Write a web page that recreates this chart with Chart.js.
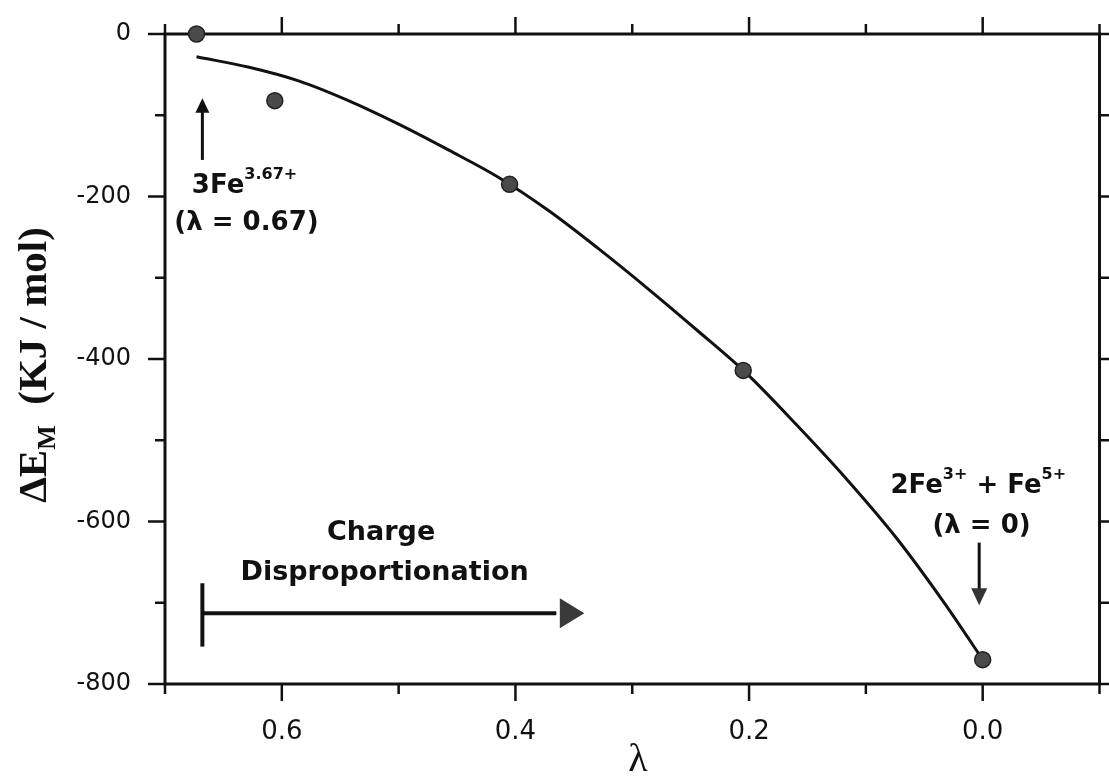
<!DOCTYPE html>
<html>
<head>
<meta charset="utf-8">
<script src="https://cdn.jsdelivr.net/npm/chart.js@4.4.0/dist/chart.umd.min.js"></script>
<style>
  html, body { margin: 0; padding: 0; background: #fff; }
</style>
</head>
<body>
<canvas id="chart" width="1109" height="779"></canvas>
<script>
// calculated points (lambda, Delta E_M in kJ/mol)
var lambdaPts = [0.673, 0.606, 0.405, 0.205, 0.0];
var energyPts = [0, -82, -185, -414, -770];

// fitted curve
var lambdaFit = [0.673, 0.628, 0.585, 0.543, 0.50, 0.457, 0.415, 0.372, 0.33, 0.287, 0.245, 0.202, 0.16, 0.117, 0.074, 0.032, 0.0];
var energyFit = [-28, -41, -58, -82, -111, -143, -176, -217, -263, -313, -364, -418, -480, -547, -620, -702, -770];

var xTickLabels = ['0.6', '0.4', '0.2', '0.0'];
var yTickLabels = ['0', '-200', '-400', '-600', '-800'];

var pts = lambdaPts.map(function (l, i) { return {x: l, y: energyPts[i]}; });
var fit = lambdaFit.map(function (l, i) { return {x: l, y: energyFit[i]}; });

function line(ctx, x1, y1, x2, y2) {
    ctx.beginPath();
    ctx.moveTo(x1, y1);
    ctx.lineTo(x2, y2);
    ctx.stroke();
}

// text with superscripts / subscripts, parts = [[text, shift], ...]
function richText(ctx, parts, x, y, big, small) {
    parts.forEach(function (p) {
        ctx.font = p[1] === 0 ? big : small;
        ctx.fillText(p[0], x, y + p[1]);
        x += ctx.measureText(p[0]).width;
    });
}

function richWidth(ctx, parts, big, small) {
    var w = 0;
    parts.forEach(function (p) {
        ctx.font = p[1] === 0 ? big : small;
        w += ctx.measureText(p[0]).width;
    });
    return w;
}

function noPad(s) {
    s.paddingLeft = 0;
    s.paddingRight = 0;
    s.paddingTop = 0;
    s.paddingBottom = 0;
}

var frameTicks = {
    id: 'frameTicks',
    beforeDatasetsDraw: function (chart) {
        var ctx = chart.ctx, a = chart.chartArea;
        var xs = chart.scales.x, ys = chart.scales.y;
        ctx.save();
        ctx.strokeStyle = '#111';
        ctx.lineWidth = 3;
        ctx.strokeRect(a.left, a.top, a.right - a.left, a.bottom - a.top);
        ctx.lineWidth = 2.5;
        xs.ticks.forEach(function (t) {
            var p = xs.getPixelForValue(t.value);
            var major = Math.abs(Math.round(t.value * 10)) % 2 === 0;
            var len = major ? 17 : 10;
            line(ctx, p, a.bottom, p, a.bottom + len);
            line(ctx, p, a.top, p, a.top - len);
        });
        ys.ticks.forEach(function (t) {
            var p = ys.getPixelForValue(t.value);
            var major = Math.round(t.value) % 200 === 0;
            var len = major ? 17 : 10;
            line(ctx, a.left - len, p, a.left, p);
            line(ctx, a.right, p, a.right + len, p);
        });
        ctx.restore();
    }
};

var decor = {
    id: 'decor',
    afterDraw: function (chart) {
        var ctx = chart.ctx;
        var xs = chart.scales.x, ys = chart.scales.y;
        var px = function (v) { return xs.getPixelForValue(v); };
        var py = function (v) { return ys.getPixelForValue(v); };
        var big = 'bold 26px "DejaVu Sans"';
        var small = 'bold 16px "DejaVu Sans"';
        ctx.save();
        ctx.fillStyle = '#111';
        ctx.strokeStyle = '#111';
        ctx.textBaseline = 'alphabetic';

        // up arrow to lambda = 0.67
        ctx.lineWidth = 3;
        var ax = px(0.668);
        line(ctx, ax, py(-155), ax, py(-90));
        ctx.beginPath();
        ctx.moveTo(ax, py(-79));
        ctx.lineTo(ax - 7, py(-97));
        ctx.lineTo(ax + 7, py(-97));
        ctx.closePath();
        ctx.fill();

        ctx.textAlign = 'left';
        richText(ctx, [['3Fe', 0], ['3.67+', -14]], px(0.677), py(-196), big, small);
        ctx.font = big;
        ctx.fillText('(\u03BB = 0.67)', px(0.692), py(-241));

        // right hand label, lambda = 0
        richText(ctx, [['2Fe', 0], ['3+', -14], [' + Fe', 0], ['5+', -14]], px(0.079), py(-565), big, small);
        ctx.font = big;
        ctx.textAlign = 'center';
        ctx.fillText('(\u03BB = 0)', px(0.001), py(-614));
        var dx = px(0.003);
        line(ctx, dx, py(-626), dx, py(-685));
        ctx.fillStyle = '#333';
        ctx.beginPath();
        ctx.moveTo(dx, py(-703));
        ctx.lineTo(dx - 8, py(-682));
        ctx.lineTo(dx + 8, py(-682));
        ctx.closePath();
        ctx.fill();
        ctx.fillStyle = '#111';

        // charge disproportionation arrow
        ctx.font = 'bold 27px "DejaVu Sans"';
        ctx.fillText('Charge', px(0.515), py(-623));
        ctx.fillText('Disproportionation', px(0.512), py(-672));
        ctx.lineWidth = 4;
        var bx = px(0.668), by = py(-713);
        line(ctx, bx, py(-676), bx, py(-754));
        line(ctx, bx, by, px(0.365), by);
        ctx.fillStyle = '#3a3a3a';
        ctx.beginPath();
        ctx.moveTo(px(0.341), by);
        ctx.lineTo(px(0.362), by - 15);
        ctx.lineTo(px(0.362), by + 15);
        ctx.closePath();
        ctx.fill();
        ctx.fillStyle = '#111';

        // axis titles
        ctx.textAlign = 'center';
        ctx.textBaseline = 'middle';
        ctx.font = '40px "Liberation Serif"';
        ctx.fillText('\u03BB', 638, 760);

        var tBig = 'bold 41px "Liberation Serif"';
        var tSmall = 'bold 26px "Liberation Serif"';
        var tParts = [['\u0394E', 0], ['M', 9], ['  (KJ / mol)', 0]];
        var w = richWidth(ctx, tParts, tBig, tSmall);
        ctx.translate(46, 365);
        ctx.rotate(-Math.PI / 2);
        ctx.textAlign = 'left';
        ctx.textBaseline = 'alphabetic';
        richText(ctx, tParts, -w / 2, 0, tBig, tSmall);
        ctx.restore();
    }
};

new Chart(document.getElementById('chart'), {
    type: 'scatter',
    data: {
        datasets: [{
            data: fit,
            showLine: true,
            borderColor: '#111',
            borderWidth: 3,
            pointRadius: 0,
            cubicInterpolationMode: 'monotone',
            order: 2
        }, {
            data: pts,
            showLine: false,
            pointRadius: 8,
            pointBackgroundColor: '#4a4a4a',
            pointBorderColor: '#222',
            pointBorderWidth: 1.5,
            clip: false,
            order: 1
        }]
    },
    options: {
        responsive: false,
        animation: false,
        devicePixelRatio: 1,
        layout: { padding: { top: 34, right: 4, left: 0, bottom: 0 } },
        plugins: {
            legend: { display: false },
            tooltip: { enabled: false }
        },
        scales: {
            x: {
                type: 'linear',
                reverse: true,
                min: -0.1,
                max: 0.7,
                grid: { display: false, drawTicks: false },
                border: { display: false },
                ticks: {
                    stepSize: 0.1,
                    autoSkip: false,
                    maxRotation: 0,
                    padding: 33,
                    color: '#111',
                    font: { family: 'DejaVu Sans', size: 26 },
                    callback: function (v) {
                        var s = Math.abs(v) < 1e-9 ? '0.0' : v.toFixed(1);
                        return xTickLabels.indexOf(s) >= 0 ? s : '';
                    }
                },
                afterFit: function (s) { s.height = 95; noPad(s); }
            },
            y: {
                min: -800,
                max: 0,
                grid: { display: false, drawTicks: false },
                border: { display: false },
                ticks: {
                    stepSize: 100,
                    autoSkip: false,
                    padding: 34,
                    color: '#111',
                    font: { family: 'DejaVu Sans', size: 24 },
                    callback: function (v) {
                        var s = String(Math.round(v));
                        return yTickLabels.indexOf(s) >= 0 ? s : '';
                    }
                },
                afterFit: function (s) { s.width = 165; noPad(s); }
            }
        }
    },
    plugins: [frameTicks, decor]
});
</script>
</body>
</html>
